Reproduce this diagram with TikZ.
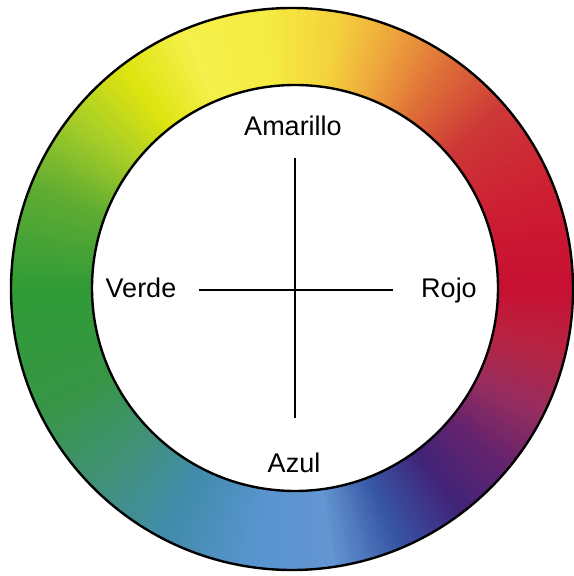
\documentclass[tikz,border=0pt]{standalone}
\usepackage{fontspec}
\setmainfont{Liberation Sans}
\usepackage{xcolor}
\usetikzlibrary{positioning}

% colour stops round the ring, by angle
\definecolor{hue0}{RGB}{200,16,50}
\definecolor{hue20}{RGB}{205,30,50}
\definecolor{hue40}{RGB}{205,55,55}
\definecolor{hue55}{RGB}{222,110,55}
\definecolor{hue68}{RGB}{238,165,60}
\definecolor{hue80}{RGB}{244,210,60}
\definecolor{hue95}{RGB}{245,235,65}
\definecolor{hue112}{RGB}{245,240,75}
\definecolor{hue127}{RGB}{222,228,15}
\definecolor{hue142}{RGB}{165,205,40}
\definecolor{hue158}{RGB}{95,172,50}
\definecolor{hue180}{RGB}{48,155,55}
\definecolor{hue205}{RGB}{55,150,70}
\definecolor{hue225}{RGB}{65,145,120}
\definecolor{hue242}{RGB}{65,140,170}
\definecolor{hue262}{RGB}{88,148,208}
\definecolor{hue278}{RGB}{100,150,210}
\definecolor{hue292}{RGB}{55,85,165}
\definecolor{hue307}{RGB}{65,35,120}
\definecolor{hue320}{RGB}{100,35,110}
\definecolor{hue333}{RGB}{150,45,95}
\definecolor{hue347}{RGB}{185,35,65}
\definecolor{hue360}{RGB}{200,16,50}

\begin{document}
\begin{tikzpicture}[x=0.5pt, y=0.5pt,
    colname/.style={font=\fontsize{13.5}{16}\selectfont, anchor=base},
    rim/.style={line width=1.2pt},
    cross/.style={line width=1.25pt}]
    \useasboundingbox (-292,-287) rectangle (281,289);
    \foreach \a/\b in {0/20,20/40,40/55,55/68,68/80,80/95,95/112,112/127,127/142,142/158,158/180,180/205,205/225,225/242,242/262,262/278,278/292,292/307,307/320,320/333,333/347,347/360} {
        \pgfmathtruncatemacro{\n}{\b-\a-1}
        \foreach \t in {0,...,\n} {
            \pgfmathtruncatemacro{\p}{100-100*\t/(\b-\a)}
            \pgfmathsetmacro{\s}{\a+\t}
            \fill[hue\a!\p!hue\b] (0,0) -- (\s:281) arc[start angle=\s, end angle=\s+1.5, radius=281] -- cycle;
        }
    }
    \fill[white] (3,1) circle (203);
    \draw[rim] (0,0) circle (281);
    \draw[rim] (3,1) circle (203);

    \node[colname] (amarillo) at (1,153) {Amarillo};
    \node[colname] (verde) at (-151,-9) {Verde};
    \node[colname] (rojo) at (157,-9) {Rojo};
    \node[colname] (azul) at (2,-184) {Azul};

    \coordinate (ejeN) at (3,131);
    \coordinate (ejeS) at (3,-129);
    \coordinate (ejeO) at (-93,-1);
    \coordinate (ejeE) at (101,-1);
    \draw[cross] (ejeN) -- (ejeS);
    \draw[cross] (ejeO) -- (ejeE);
\end{tikzpicture}
\end{document}
